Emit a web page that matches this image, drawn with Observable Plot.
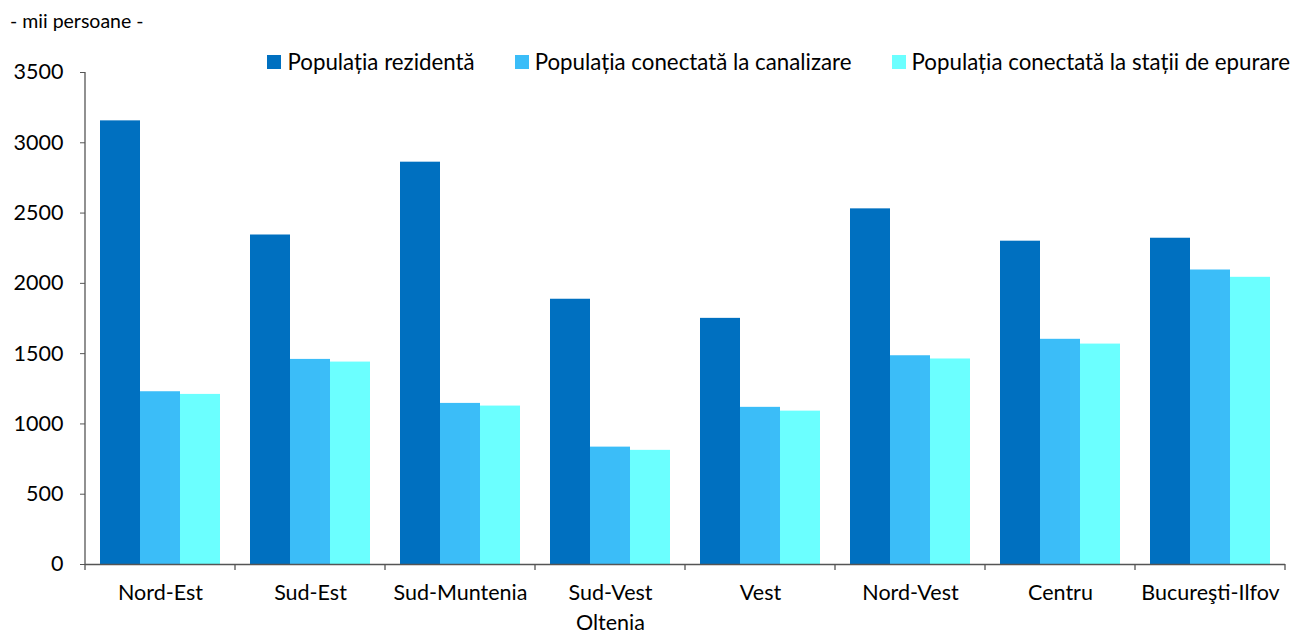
<!DOCTYPE html>
<html>
<head>
<meta charset="utf-8">
<script src="https://cdn.jsdelivr.net/npm/d3@7"></script>
<script src="https://cdn.jsdelivr.net/npm/@observablehq/plot@0.6"></script>
<style>
  html, body { margin: 0; padding: 0; background: #fff; }
  body { width: 1294px; height: 631px; position: relative; overflow: hidden; font-family: Lato, "Open Sans", sans-serif; }
  #title { position: absolute; left: 10px; top: 9px; font-size: 19.5px; line-height: 1.2; color: #000; white-space: nowrap; }
  #legend { position: absolute; right: 4px; top: 48.5px; display: flex; align-items: center; font-size: 22.3px; line-height: 1.2; color: #000; white-space: nowrap; }
  #legend .item { display: flex; align-items: center; }
  #legend .sw { width: 14px; height: 14px; margin-right: 6px; }
  #chart { position: absolute; left: 0; top: 0; }
</style>
</head>
<body>
<div id="chart"></div>
<div id="title">- mii persoane -</div>
<div id="legend"></div>
<script>
const regions = ["Nord-Est", "Sud-Est", "Sud-Muntenia", "Sud-Vest Oltenia", "Vest", "Nord-Vest", "Centru", "Bucureşti-Ilfov"];
const regionLabels = ["Nord-Est", "Sud-Est", "Sud-Muntenia", "Sud-Vest\nOltenia", "Vest", "Nord-Vest", "Centru", "Bucureşti-Ilfov"];
const series = ["Populația rezidentă", "Populația conectată la canalizare", "Populația conectată la stații de epurare"];
const colors = ["#0070C0", "#3BBDF8", "#6BFFFF"];
const rezidenta = [3156, 2344, 2862, 1887, 1751, 2530, 2300, 2321];
const canalizare = [1229, 1459, 1146, 835, 1118, 1485, 1602, 2095];
const epurare = [1210, 1440, 1127, 812, 1091, 1462, 1568, 2043];
const yTicks = [0, 500, 1000, 1500, 2000, 2500, 3000, 3500];

const seriesValues = [rezidenta, canalizare, epurare];
const data = [];
regions.forEach((r, i) => {
  series.forEach((s, j) => data.push({region: r, series: s, value: seriesValues[j][i]}));
});
const labelOf = new Map(regions.map((r, i) => [r, regionLabels[i]]));

const axisColor = "#555";
const plot = Plot.plot({
  width: 1294,
  height: 631,
  marginLeft: 85,
  marginRight: 9,
  marginTop: 72,
  marginBottom: 67,
  style: {fontFamily: "Lato, 'Open Sans', sans-serif", fontSize: "21.5px", color: "#000", background: "transparent"},
  fx: {domain: regions, paddingInner: 0, paddingOuter: 0, label: null, axis: null},
  x: {domain: series, paddingInner: 0, paddingOuter: 0.33, axis: null},
  y: {domain: [0, 3500], label: null, axis: null},
  color: {domain: series, range: colors},
  marks: [
    Plot.barY(data, {fx: "region", x: "series", y: "value", fill: "series"}),
    Plot.ruleY([0], {stroke: axisColor, strokeWidth: 1.3}),
    Plot.axisY({ticks: yTicks, tickSize: 5, tickPadding: 17, stroke: axisColor, fontSize: 21.5, fill: "#000", label: null, tickFormat: d => String(d)}),
    Plot.axisFx({anchor: "bottom", tickSize: 0, tickPadding: 15, fontSize: 21.5, fill: "#000", label: null, lineHeight: 1.36, tickFormat: d => labelOf.get(d)})
  ]
});
document.getElementById("chart").appendChild(plot);

// Category boundary ticks and vertical axis line, positioned through Plot's scales
const fx = plot.scale("fx");
const ys = plot.scale("y");
const y0 = ys.apply(0);
const yTop = ys.apply(3500);
const bounds = regions.map(r => fx.apply(r)).concat([fx.apply(regions[regions.length - 1]) + fx.bandwidth]);
const svg = d3.select(plot);
svg.append("g").selectAll("line").data(bounds).join("line")
  .attr("x1", d => d).attr("x2", d => d)
  .attr("y1", y0).attr("y2", y0 + 6)
  .attr("stroke", axisColor).attr("stroke-width", 1.3);
svg.append("line")
  .attr("x1", bounds[0]).attr("x2", bounds[0])
  .attr("y1", yTop).attr("y2", y0)
  .attr("stroke", axisColor).attr("stroke-width", 1.3);

// Legend
const legend = d3.select("#legend");
series.forEach((s, i) => {
  const item = legend.append("div").attr("class", "item").style("margin-left", i === 0 ? "0px" : "40px");
  item.append("div").attr("class", "sw").style("background", colors[i]);
  item.append("span").text(s);
});
</script>
</body>
</html>
